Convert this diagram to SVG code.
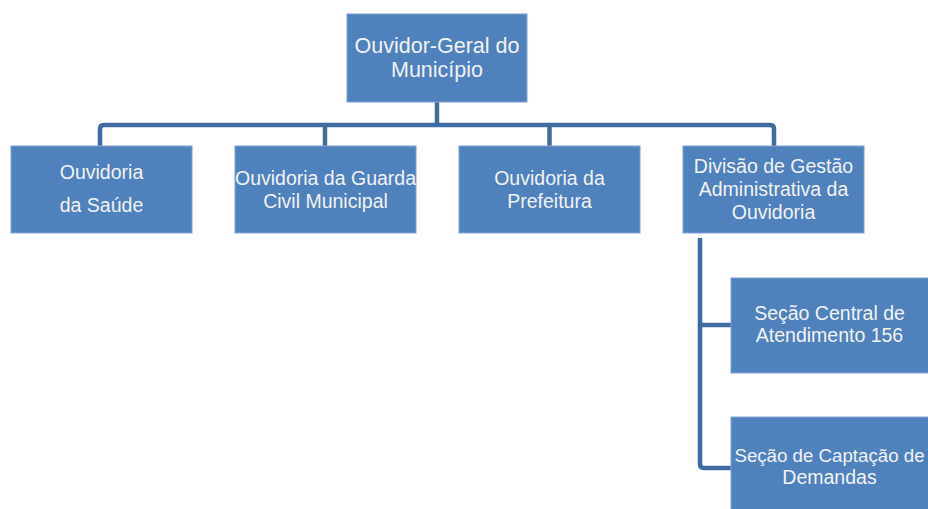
<svg xmlns="http://www.w3.org/2000/svg" width="928" height="509" viewBox="0 0 928 509">
<style>
.box{fill:#4F81BD;stroke:#7FA3D0;stroke-width:1}
.t{font-family:"Liberation Sans","Open Sans",Arial,sans-serif;fill:#F2F2F2;text-anchor:middle;font-size:19.5px}
.tt{font-size:21.5px}
.ts{font-size:18.7px}
.c{fill:none;stroke:#3F6CA0;stroke-width:4.5;stroke-linejoin:round}
</style>
<rect width="928" height="509" fill="#FFFFFF"/>
<g id="connectors">
<path class="c" d="M437,102 V125"/>
<path class="c" d="M100,146 V129 Q100,125 104,125 H770 Q774,125 774,129 V146"/>
<path class="c" d="M325,125 V146"/>
<path class="c" d="M549.5,125 V146"/>
<path class="c" d="M700,238 V464 Q700,468 704,468 H731"/>
<path class="c" d="M700,325 H731"/>
</g>
<g id="n0">
<rect class="box" x="347" y="14" width="180" height="88"/>
<text class="t tt" x="437" y="53">Ouvidor-Geral do</text>
<text class="t tt" x="437" y="77">Município</text>
</g>
<g id="n1">
<rect class="box" x="11" y="146" width="181" height="87"/>
<text class="t" x="101.5" y="179">Ouvidoria</text>
<text class="t" x="101.5" y="212">da Saúde</text>
</g>
<g id="n2">
<rect class="box" x="235" y="146" width="181" height="87"/>
<text class="t" x="325.5" y="185">Ouvidoria da Guarda</text>
<text class="t" x="325.5" y="208">Civil Municipal</text>
</g>
<g id="n3">
<rect class="box" x="459" y="146" width="181" height="87"/>
<text class="t" x="549.5" y="185">Ouvidoria da</text>
<text class="t" x="549.5" y="208">Prefeitura</text>
</g>
<g id="n4">
<rect class="box" x="683" y="146" width="181" height="87"/>
<text class="t" x="773.5" y="173">Divisão de Gestão</text>
<text class="t" x="773.5" y="196">Administrativa da</text>
<text class="t" x="773.5" y="219">Ouvidoria</text>
</g>
<g id="n5">
<rect class="box" x="731" y="278" width="200" height="95"/>
<text class="t" x="829.5" y="320">Seção Central de</text>
<text class="t" x="829.5" y="342">Atendimento 156</text>
</g>
<g id="n6">
<rect class="box" x="731" y="417" width="200" height="95"/>
<text class="t ts" x="829.5" y="462">Seção de Captação de</text>
<text class="t" x="829.5" y="484">Demandas</text>
</g>
</svg>
